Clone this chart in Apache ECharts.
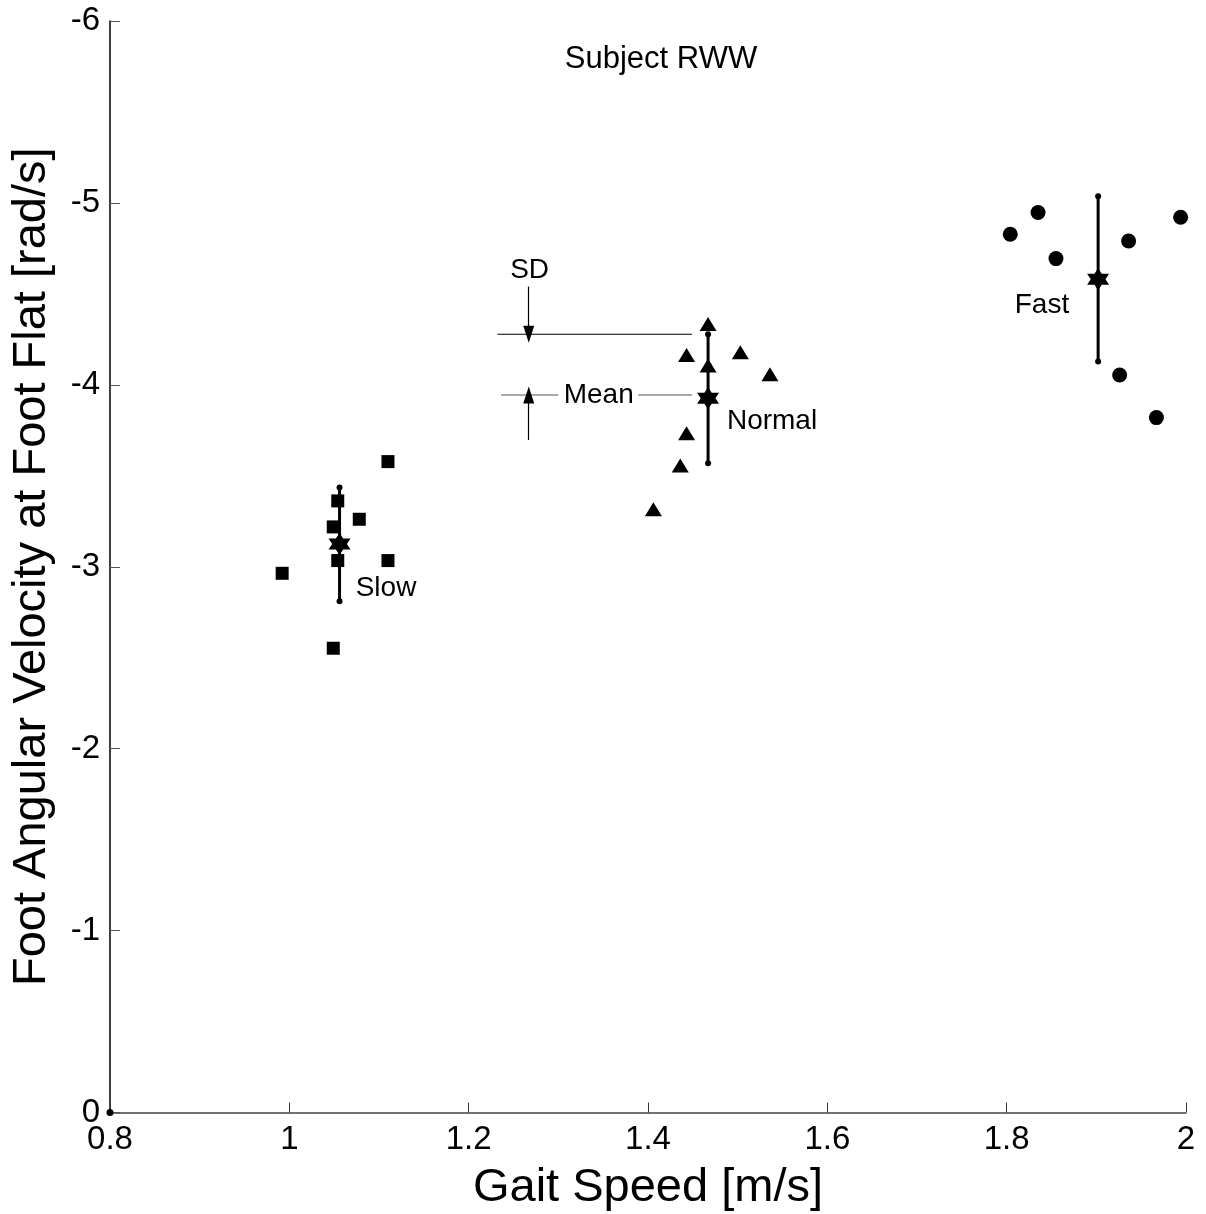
<!DOCTYPE html>
<html>
<head>
<meta charset="utf-8">
<script src="https://cdn.jsdelivr.net/npm/echarts@6/dist/echarts.min.js"></script>
<style>html,body{margin:0;padding:0;background:#fff;}#c{width:1206px;height:1214px;}</style>
</head>
<body>
<div id="c"></div>
<script>
// Data
const slowPts = [[1.110,-3.578],[1.054,-3.362],[1.078,-3.261],[1.049,-3.219],[1.054,-3.034],[1.110,-3.034],[0.992,-2.964],[1.049,-2.552]];
const normalPts = [[1.467,-4.335],[1.443,-4.164],[1.503,-4.179],[1.467,-4.106],[1.536,-4.058],[1.443,-3.734],[1.436,-3.556],[1.406,-3.316]];
const fastPts = [[1.835,-4.947],[1.804,-4.828],[1.994,-4.921],[1.936,-4.791],[1.855,-4.694],[1.926,-4.054],[1.967,-3.820]];
const groupNames = ['Slow','Normal','Fast'];
const meanX = [1.056, 1.467, 1.902];
const meanY = [-3.125, -3.926, -4.581];
const sdTop = [-3.435, -4.278, -5.037];
const sdBottom = [-2.810, -3.569, -4.128];
const groupLabelPos = [[1.074,-2.882],[1.488,-3.798],[1.809,-4.439]];
const xTicks = [0.8, 1, 1.2, 1.4, 1.6, 1.8, 2];
const yTicks = [-6, -5, -4, -3, -2, -1, 0];
// annotation guide (SD / Mean key)
const sdLine = [[1.232,-4.278],[1.449,-4.278]];
const sdArrow = [[1.267,-4.540],[1.267,-4.278]];
const meanLineL = [[1.236,-3.944],[1.300,-3.944]];
const meanLineR = [[1.389,-3.944],[1.449,-3.944]];
const meanArrow = [[1.267,-3.697],[1.267,-3.944]];
const sdTextPos = [1.268,-4.632];
const meanTextPos = [1.345,-3.944];

const FONT = '"Liberation Sans", Arial, Helvetica, sans-serif';
const hexagram = 'path://M50 0 L64.43 25 L93.3 25 L78.87 50 L93.3 75 L64.43 75 L50 100 L35.57 75 L6.7 75 L21.13 50 L6.7 25 L35.57 25 Z';
const black = {color:'#000', opacity:1};

const chart = echarts.init(document.getElementById('c'), null, {renderer:'canvas'});
const series = [];
series.push({type:'scatter', data:slowPts, symbol:'rect', symbolSize:13, itemStyle:black, z:3});
series.push({type:'scatter', data:normalPts, symbol:'triangle', symbolSize:[17,14], itemStyle:black, z:3});
series.push({type:'scatter', data:fastPts, symbol:'circle', symbolSize:15, itemStyle:black, z:3});
for (let i=0;i<3;i++){
  series.push({type:'line', data:[[meanX[i],sdTop[i]],[meanX[i],sdBottom[i]]], symbol:'circle', symbolSize:6, showSymbol:true,
    lineStyle:{color:'#000', width:3, opacity:1}, itemStyle:black, z:4});
  series.push({type:'scatter', data:[[meanX[i],meanY[i]]], symbol:hexagram, symbolSize:22, itemStyle:black, z:5});
  series.push({type:'scatter', data:[groupLabelPos[i]], symbolSize:0, itemStyle:black,
    label:{show:true, position:'right', distance:0, formatter:groupNames[i], color:'#000', opacity:1, fontSize:28, fontFamily:FONT}, z:6});
}
// origin marker
series.push({type:'scatter', data:[[0.8,0]], symbol:'circle', symbolSize:7, itemStyle:black, z:6});
// key annotations
series.push({type:'line', data:sdLine, symbol:'none', lineStyle:{color:'#000', width:1.2, opacity:1}, z:2});
series.push({type:'line', data:meanLineL, symbol:'none', lineStyle:{color:'#555', width:1.2, opacity:1}, z:2});
series.push({type:'line', data:meanLineR, symbol:'none', lineStyle:{color:'#555', width:1.2, opacity:1}, z:2});
series.push({type:'scatter', data:[], symbolSize:0,
  markLine:{silent:true, animation:false, symbol:['none','triangle'], symbolSize:[11,17], label:{show:false},
    lineStyle:{color:'#000', width:1.2, type:'solid', opacity:1},
    itemStyle:{color:'#000'},
    data:[
      [{coord:sdArrow[0]},{coord:sdArrow[1]}],
      [{coord:meanArrow[0]},{coord:meanArrow[1]}]
    ]}});
series.push({type:'scatter', data:[sdTextPos], symbolSize:0, itemStyle:black,
  label:{show:true, position:'inside', formatter:'SD', color:'#000', fontSize:28, fontFamily:FONT}});
series.push({type:'scatter', data:[meanTextPos], symbolSize:0, itemStyle:black,
  label:{show:true, position:'inside', formatter:'Mean', color:'#000', fontSize:28, fontFamily:FONT}});

chart.setOption({
  animation:false,
  backgroundColor:'#fff',
  grid:{left:110, right:20, top:21, bottom:101.5, containLabel:false, outerBoundsMode:'none'},
  xAxis:{type:'value', min:0.8, max:2, interval:0.2,
    name:'Gait Speed [m/s]', nameLocation:'middle', nameGap:52,
    nameTextStyle:{fontSize:47, fontFamily:FONT, color:'#000'},
    axisLine:{show:true, onZero:false, lineStyle:{color:'#444', width:1.5}},
    axisTick:{show:true, inside:true, length:10, lineStyle:{color:'#333', width:1}},
    axisLabel:{fontSize:33, fontFamily:FONT, color:'#000', margin:11,
      formatter:function(v){ return String(Math.round(v*10)/10); }},
    splitLine:{show:false}},
  yAxis:{type:'value', min:-6, max:0, interval:1, inverse:true,
    name:'Foot Angular Velocity at Foot Flat [rad/s]', nameLocation:'middle', nameGap:54,
    nameTextStyle:{fontSize:47, fontFamily:FONT, color:'#000'},
    axisLine:{show:true, onZero:false, lineStyle:{color:'#000', width:1.5}},
    axisTick:{show:true, inside:true, length:10, lineStyle:{color:'#555', width:1}},
    axisLabel:{fontSize:33, fontFamily:FONT, color:'#000', margin:10},
    splitLine:{show:false}},
  graphic:[{type:'text', x:661, y:59, style:{text:'Subject RWW', font:'31px '+FONT, fill:'#000', align:'center', verticalAlign:'middle'}}],
  series:series
});
</script>
</body>
</html>
